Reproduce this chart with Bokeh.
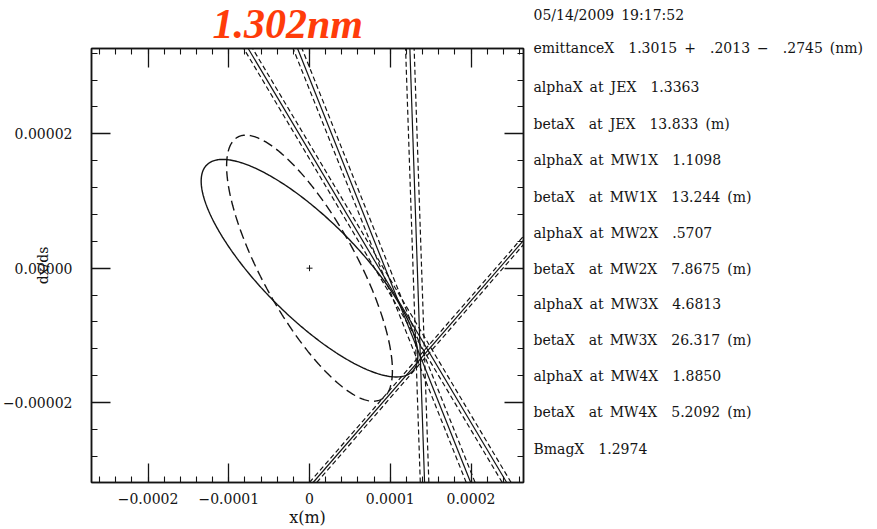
import numpy as np
from bokeh.plotting import figure
from bokeh.layouts import row, column
from bokeh.models import (Range1d, LinearAxis, SingleIntervalTicker,
                          CustomJSTickFormatter)
from bokeh.core.properties import value
from bokeh.embed import file_html
from bokeh.resources import INLINE

# ---- fit results at JEX -------------------------------------------------
timestamp = "05/14/2009 19:17:52"
headline = "1.302nm"
emittance_nm = 1.3015
emittance_err_plus = 0.2013
emittance_err_minus = 0.2745
alpha_jex = 1.3363
beta_jex = 13.833

# design (matched) Twiss at JEX, drawn as the dashed ellipse
alpha_design = 1.20
beta_design = 8.10

# propagated Twiss at each wire scanner
wire_names = ["MW1X", "MW2X", "MW3X", "MW4X"]
wire_alpha = [1.1098, 0.5707, 4.6813, 1.8850]
wire_beta = [13.244, 7.8675, 26.317, 5.2092]
bmag = 1.2974

# beam-size constraint of each wire mapped back to JEX:  x = x0 + k * x'
line_k = [-0.282, -3.319, 7.23, -4.956]
line_x0 = [1.335e-4, 9.37e-5, 2.351e-4, 8.61e-5]
line_err = [5.3e-6, 5.5e-6, 4.5e-6, 5.5e-6]

# centroid
centre_x = [0.0]
centre_y = [0.0]

X_RANGE = (-0.00027, 0.000265)
Y_RANGE = (-0.0000319, 0.0000327)

# ---- layout (pixels) ----------------------------------------------------
W, H = 877, 529
LEFT_W = 530            # width of the plot column
TITLE_H = 47            # strip above the plot holding the headline
FRAME_L, FRAME_R, FRAME_T, FRAME_B = 91, 523, 48, 485
INK = "#141414"
FONT = "DejaVu Serif"


def blank_panel(width, height, x_lo, x_hi, border_l=0, border_r=0):
    f = figure(width=width, height=height, output_backend="svg",
               toolbar_location=None, x_range=Range1d(x_lo, x_hi),
               y_range=Range1d(height, 0), min_border=0,
               min_border_left=border_l, min_border_right=border_r)
    f.axis.visible = False
    f.grid.visible = False
    f.outline_line_color = None
    f.background_fill_color = "white"
    f.border_fill_color = "white"
    return f


# ---- headline strip (same horizontal frame as the plot below) ----------
title_fig = blank_panel(LEFT_W, TITLE_H, FRAME_L, FRAME_R,
                        border_l=FRAME_L, border_r=LEFT_W - FRAME_R)
title_fig.text(x=[212], y=[TITLE_H / 2], text=[headline],
               text_font=value("Liberation Serif"),
               text_font_style="bold italic", text_font_size=value("42px"),
               text_color="#ff3c0a", text_baseline="middle")

# ---- phase-space plot ---------------------------------------------------
p = figure(width=LEFT_W, height=H - TITLE_H, output_backend="svg",
           toolbar_location=None,
           x_range=Range1d(*X_RANGE), y_range=Range1d(*Y_RANGE),
           min_border_left=FRAME_L, min_border_right=LEFT_W - FRAME_R,
           min_border_top=FRAME_T - TITLE_H, min_border_bottom=H - FRAME_B,
           x_axis_label="x(m)", y_axis_label="dx/ds")
p.grid.visible = False
p.outline_line_color = INK
p.outline_line_width = 1.5
p.background_fill_color = "white"
p.border_fill_color = "white"

x_fmt = CustomJSTickFormatter(code="""
    const t = Math.abs(tick) < 1e-12 ? 0 : tick;
    if (t == 0) return "0";
    return t.toFixed(4).replace("-", "\u2212");
""")
y_fmt = CustomJSTickFormatter(code="""
    const t = Math.abs(tick) < 1e-15 ? 0 : tick;
    return t.toFixed(5).replace("-", "\u2212");
""")
blank_fmt = CustomJSTickFormatter(code="return '';")


def style_axis(ax):
    ax.axis_line_color = INK
    ax.axis_line_width = 1.5
    ax.major_tick_line_color = INK
    ax.minor_tick_line_color = INK
    ax.major_tick_line_width = 1.3
    ax.minor_tick_line_width = 1.1
    ax.major_tick_in = 19
    ax.major_tick_out = 0
    ax.minor_tick_in = 6
    ax.minor_tick_out = 0
    ax.major_label_text_font = FONT
    ax.major_label_text_font_size = "14px"
    ax.major_label_text_color = INK
    ax.axis_label_text_font = FONT
    ax.axis_label_text_font_style = "normal"
    ax.axis_label_text_color = INK


xb = p.xaxis[0]
xb.ticker = SingleIntervalTicker(interval=1e-4, num_minor_ticks=5)
xb.formatter = x_fmt
style_axis(xb)
xb.major_label_standoff = 10
xb.axis_label_standoff = 1
xb.axis_label_text_font_size = "16px"

yl = p.yaxis[0]
yl.ticker = SingleIntervalTicker(interval=2e-5, num_minor_ticks=5)
yl.formatter = y_fmt
style_axis(yl)
yl.major_label_standoff = 19
yl.axis_label_standoff = -51
yl.axis_label_text_font_size = "14px"

for loc, interval in (("above", 1e-4), ("right", 2e-5)):
    ax = LinearAxis(ticker=SingleIntervalTicker(interval=interval,
                                                num_minor_ticks=5),
                    formatter=blank_fmt)
    style_axis(ax)
    ax.major_label_standoff = 0
    ax.major_label_text_font_size = "1px"
    p.add_layout(ax, loc)

# ---- phase-space ellipses ----------------------------------------------
emit = emittance_nm * 1e-9
phi = np.linspace(0, 2 * np.pi, 400)


def ellipse(alpha, beta):
    xs = np.sqrt(emit * beta) * np.cos(phi)
    xps = -np.sqrt(emit / beta) * (alpha * np.cos(phi) + np.sin(phi))
    return xs, xps


ex, ey = ellipse(alpha_jex, beta_jex)
p.line(ex, ey, line_color=INK, line_width=1.4)
dx_, dy_ = ellipse(alpha_design, beta_design)
p.line(dx_, dy_, line_color=INK, line_width=1.4, line_dash="10 5")

p.scatter(centre_x, centre_y, marker="cross", size=6, line_color=INK,
          line_width=1)

# ---- wire constraint lines ---------------------------------------------
y_lo, y_hi = Y_RANGE
k = np.array(line_k)
x0 = np.array(line_x0)
err = np.array(line_err)
n = len(k)
p.segment(x0 + k * y_lo, np.full(n, y_lo), x0 + k * y_hi, np.full(n, y_hi),
          line_color=INK, line_width=1.2)
for sgn in (-1, 1):
    xo = x0 + sgn * err
    p.segment(xo + k * y_lo, np.full(n, y_lo), xo + k * y_hi, np.full(n, y_hi),
              line_color=INK, line_width=1.2, line_dash="5 3")

# ---- fit summary panel --------------------------------------------------


def fa(v):
    return f"{v:.4f}".lstrip("0")


def fb(v):
    return f"{v:#.5g}"


SP = "\u2002"           # en space keeps the printout's wide spacing
S2 = SP * 2
info_y = [14, 47, 86, 123]
info_text = [
    timestamp.replace(" ", SP),
    f"emittanceX{S2}{fa(emittance_nm)}{SP}+{S2}{fa(emittance_err_plus)}"
    f"{SP}\u2212{S2}{fa(emittance_err_minus)}{SP}(nm)",
    f"alphaX{SP}at{SP}JEX{S2}{fa(alpha_jex)}",
    f"betaX{S2}at{SP}JEX{S2}{fb(beta_jex)}{SP}(m)",
]
rows_y = [159, 196, 232, 268, 303, 339, 375, 411]
for i, name in enumerate(wire_names):
    info_y += [rows_y[2 * i], rows_y[2 * i + 1]]
    info_text += [f"alphaX{SP}at{SP}{name}{S2}{fa(wire_alpha[i])}",
                  f"betaX{S2}at{SP}{name}{S2}{fb(wire_beta[i])}{SP}(m)"]
info_y.append(448)
info_text.append(f"BmagX{S2}{fa(bmag)}")

panel_w = W - LEFT_W
panel = blank_panel(panel_w, H, 0, panel_w)
panel.text(x=[533 - LEFT_W] * len(info_y), y=info_y, text=info_text,
           text_font=value(FONT), text_font_size=value("14px"),
           text_color=INK, text_baseline="middle")

layout = row(column(title_fig, p, spacing=0), panel, spacing=0)
open("out.html", "w").write(file_html(layout, INLINE))
